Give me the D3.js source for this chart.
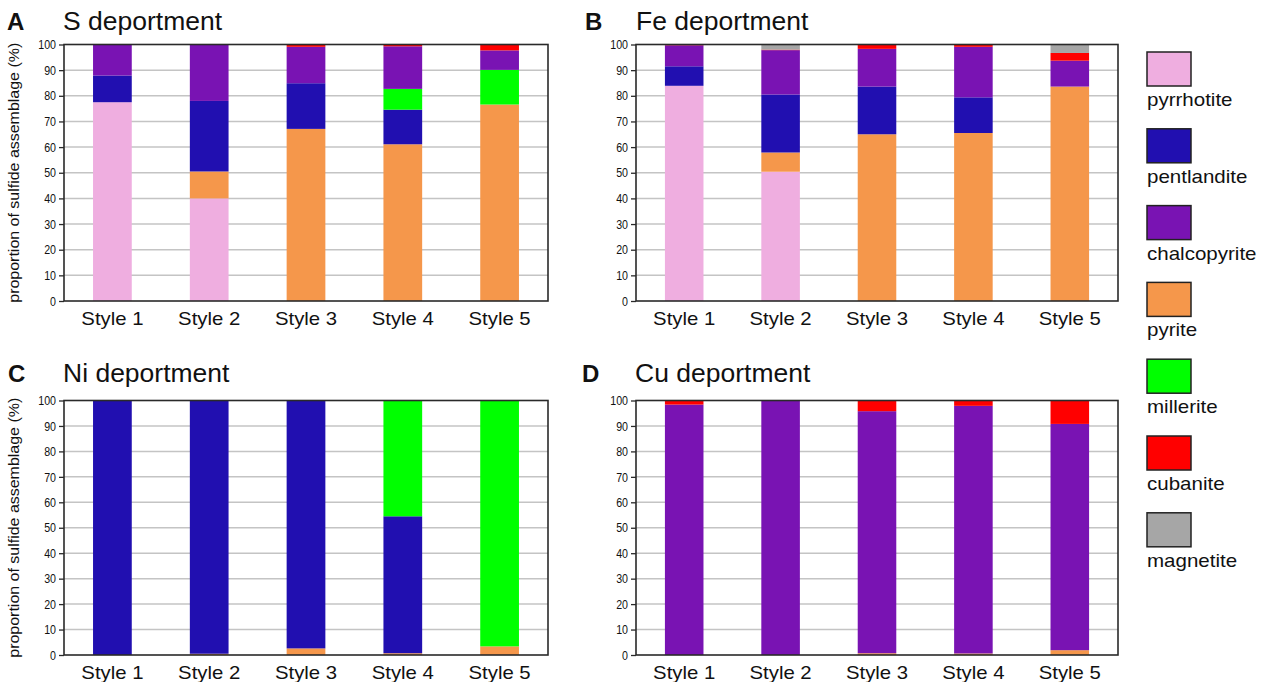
<!DOCTYPE html>
<html><head><meta charset="utf-8">
<script src="https://cdn.jsdelivr.net/npm/d3@7"></script>
<style>
body{margin:0;background:#fff}
svg{display:block}
text{font-family:"Liberation Sans",Arial,Helvetica,sans-serif;fill:#111}
</style>
</head><body>
<svg id="chart" width="1267" height="682"></svg>
<script>
// ---------- DATA ----------
const categories = ["Style 1", "Style 2", "Style 3", "Style 4", "Style 5"];
const legendMinerals = ["pyrrhotite", "pentlandite", "chalcopyrite", "pyrite", "millerite", "cubanite", "magnetite"];
const legendColors = ["#efaee0", "#210fb0", "#7913b3", "#f5974b", "#00ff00", "#ff0000", "#a6a6a6"];
const stackOrder = ["pyrrhotite", "pyrite", "pentlandite", "millerite", "chalcopyrite", "cubanite", "magnetite"];
const yTicks = [0, 10, 20, 30, 40, 50, 60, 70, 80, 90, 100];
const panelLetters = ["A", "B", "C", "D"];
const panelTitles = ["S deportment", "Fe deportment", "Ni deportment", "Cu deportment"];
const yAxisLabel = "proportion of sulfide assemblage (%)";

// rows follow stackOrder: pyrrhotite, pyrite, pentlandite, millerite, chalcopyrite, cubanite, magnetite
const sDeportment = [
  [77.5, 40.0, 0, 0, 0],
  [0, 10.5, 67.1, 61.1, 76.6],
  [10.4, 27.5, 17.8, 13.5, 0],
  [0, 0, 0, 8.1, 13.5],
  [12.1, 22.0, 14.2, 16.6, 7.6],
  [0, 0, 0.9, 0.7, 2.3],
  [0, 0, 0, 0, 0]
];
const feDeportment = [
  [83.9, 50.4, 0, 0, 0],
  [0, 7.5, 65.0, 65.5, 83.6],
  [7.6, 22.6, 18.6, 13.9, 0],
  [0, 0, 0, 0, 0],
  [8.2, 17.3, 14.7, 19.7, 10.1],
  [0.3, 0.2, 1.7, 0.9, 3.0],
  [0, 2.0, 0, 0, 3.3]
];
const niDeportment = [
  [0, 0, 0, 0, 0],
  [0, 0.5, 2.6, 0.7, 3.4],
  [100, 99.5, 97.4, 53.8, 0],
  [0, 0, 0, 45.5, 96.6],
  [0, 0, 0, 0, 0],
  [0, 0, 0, 0, 0],
  [0, 0, 0, 0, 0]
];
const cuDeportment = [
  [0, 0, 0, 0, 0],
  [0, 0, 0.7, 0.6, 1.9],
  [0, 0, 0, 0, 0],
  [0, 0, 0, 0, 0],
  [98.4, 100, 95.1, 97.3, 88.9],
  [1.6, 0, 4.2, 2.1, 9.2],
  [0, 0, 0, 0, 0]
];
const panelData = [sDeportment, feDeportment, niDeportment, cuDeportment];

// ---------- LAYOUT ----------
const panels = [
  {x0: 64, x1: 548, y0: 44.5, y1: 301, lx: 7, tx: 63, ty: 29.5, ylab: true},
  {x0: 636, x1: 1118, y0: 44.5, y1: 301, lx: 585, tx: 636, ty: 29.5, ylab: false},
  {x0: 64, x1: 548, y0: 400.5, y1: 655, lx: 8, tx: 63, ty: 381.5, ylab: true},
  {x0: 636, x1: 1118, y0: 400.5, y1: 655, lx: 582, tx: 635, ty: 381.5, ylab: false}
];

const svg = d3.select("#chart");
const colorOf = d3.scaleOrdinal().domain(legendMinerals).range(legendColors);

function stretch(sel, f) {
  sel.each(function () {
    const w = this.getComputedTextLength();
    this.setAttribute("textLength", w * f);
    this.setAttribute("lengthAdjust", "spacingAndGlyphs");
  });
}

panels.forEach((p, pi) => {
  const g = svg.append("g");
  const x = d3.scaleBand().domain(categories).range([p.x0, p.x1]).paddingInner(0.6).paddingOuter(0.3);
  const y = d3.scaleLinear().domain([0, 100]).range([p.y1, p.y0]);

  // gridlines
  g.append("g").selectAll("line").data(yTicks.filter(t => t > 0 && t < 100)).join("line")
    .attr("x1", p.x0).attr("x2", p.x1)
    .attr("y1", d => y(d)).attr("y2", d => y(d))
    .attr("stroke", "#c4c4c4").attr("stroke-width", 1.5);

  // stacked bars
  const rows = categories.map((c, ci) => {
    const o = {cat: c};
    stackOrder.forEach((m, mi) => o[m] = panelData[pi][mi][ci]);
    return o;
  });
  const series = d3.stack().keys(stackOrder)(rows);
  g.append("g").selectAll("g").data(series).join("g")
    .attr("fill", d => colorOf(d.key))
    .selectAll("rect").data(d => d.filter(v => v[1] - v[0] > 0)).join("rect")
    .attr("x", d => x(d.data.cat))
    .attr("width", x.bandwidth())
    .attr("y", d => y(d[1]))
    .attr("height", d => y(d[0]) - y(d[1]));

  // frame
  g.append("rect").attr("x", p.x0).attr("y", p.y0)
    .attr("width", p.x1 - p.x0).attr("height", p.y1 - p.y0)
    .attr("fill", "none").attr("stroke", "#2a2a2a").attr("stroke-width", 1.6);

  // y axis
  const ya = g.append("g").attr("transform", `translate(${p.x0},0)`)
    .call(d3.axisLeft(y).tickValues(yTicks).tickSize(5).tickPadding(3).tickFormat(d3.format("d")));
  ya.select(".domain").remove();
  ya.selectAll(".tick line").attr("stroke", "#2a2a2a").attr("stroke-width", 1.3);
  ya.selectAll(".tick text").attr("font-size", 13).attr("font-family", "Liberation Sans, Arial, sans-serif").attr("fill", "#111");
  stretch(ya.selectAll(".tick text"), 0.82);

  // x axis
  const xa = g.append("g").attr("transform", `translate(0,${p.y1})`)
    .call(d3.axisBottom(x).tickSize(0).tickPadding(11));
  xa.select(".domain").remove();
  xa.selectAll(".tick text").attr("font-size", 19).attr("font-family", "Liberation Sans, Arial, sans-serif").attr("fill", "#111");
  stretch(xa.selectAll(".tick text"), 1.07);

  // titles
  g.append("text").attr("x", p.lx).attr("y", p.ty)
    .attr("font-size", 24).attr("font-weight", "bold").text(panelLetters[pi]);
  const t = g.append("text").attr("x", p.tx).attr("y", p.ty)
    .attr("font-size", 25).text(panelTitles[pi]);
  stretch(t, 1.06);

  if (p.ylab) {
    g.append("text")
      .attr("transform", `translate(19,${(p.y0 + p.y1) / 2}) rotate(-90)`)
      .attr("text-anchor", "middle").attr("font-size", 15)
      .attr("textLength", 260).attr("lengthAdjust", "spacingAndGlyphs")
      .text(yAxisLabel);
  }
});

// legend
const lg = svg.append("g");
legendMinerals.forEach((m, i) => {
  const top = 52 + i * 76.8;
  lg.append("rect").attr("x", 1147).attr("y", top).attr("width", 44).attr("height", 34)
    .attr("fill", colorOf(m)).attr("stroke", "#222").attr("stroke-width", 1.5);
  const tx = lg.append("text").attr("x", 1147).attr("y", top + 54).attr("font-size", 19).text(m);
  stretch(tx, 1.08);
});
</script>
</body></html>
